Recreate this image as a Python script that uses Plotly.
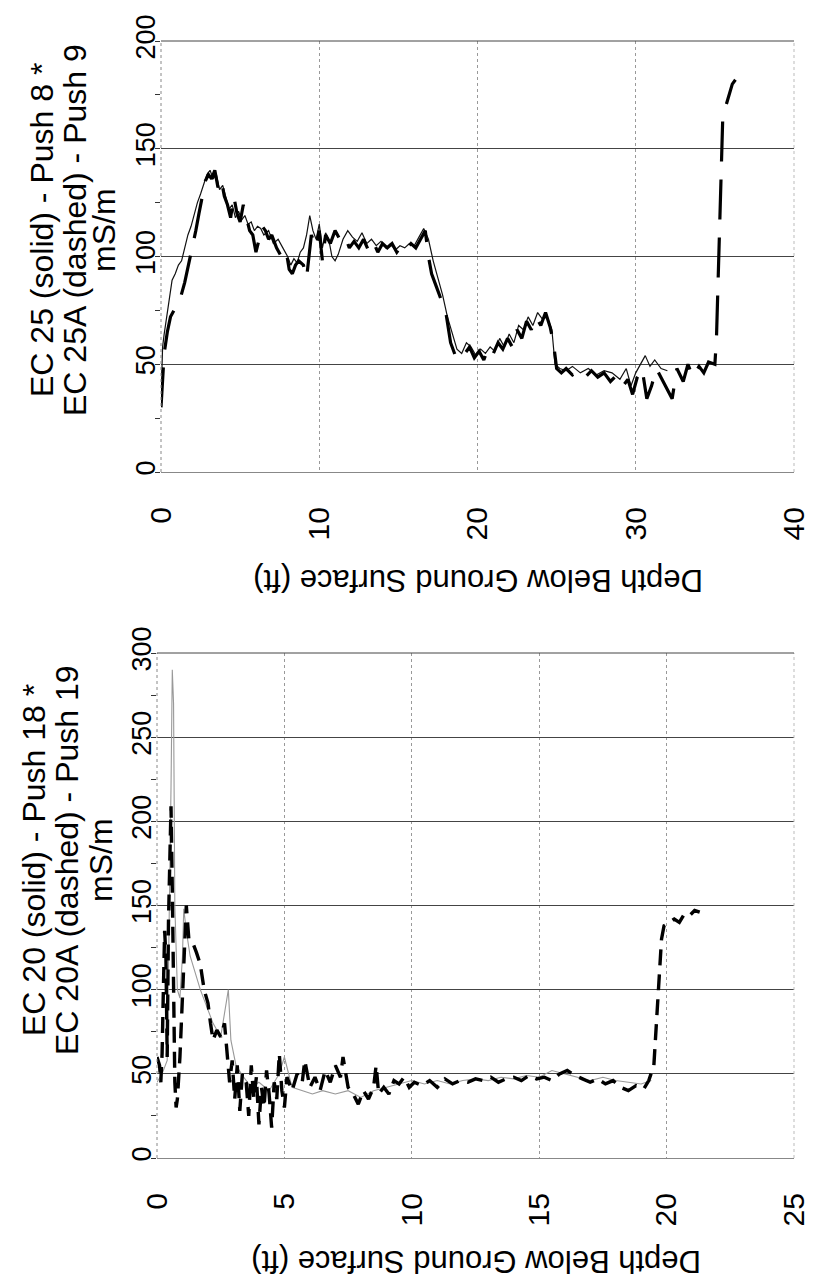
import plotly.graph_objects as go

# ---------------- data: top panel (EC 25 / EC 25A) ----------------
ec25_depth = [0.05, 0.1, 0.2, 0.4, 0.6, 0.7, 0.9, 1.1, 1.3, 1.5, 1.7, 1.9, 2.1, 2.3, 2.5, 2.7, 2.9, 3.1,
              3.3, 3.5, 3.7, 3.9, 4.1, 4.3, 4.5, 4.7, 4.9, 5.1, 5.3, 5.5, 5.7, 5.9, 6.1, 6.3, 6.5, 6.8,
              7.1, 7.4, 7.7, 8.0, 8.2, 8.4, 8.6, 8.8, 9.0, 9.2, 9.4, 9.6, 9.8, 10.0, 10.2, 10.4, 10.6,
              10.8, 11.0, 11.2, 11.5, 11.8, 12.1, 12.4, 12.7, 13.0, 13.3, 13.6, 13.9, 14.2, 14.5, 14.8,
              15.1, 15.4, 15.7, 16.0, 16.3, 16.6, 16.9, 17.2, 17.5, 17.8, 18.1, 18.4, 18.7, 19.0, 19.3,
              19.6, 19.9, 20.2, 20.5, 20.8, 21.1, 21.4, 21.7, 22.0, 22.3, 22.6, 22.9, 23.2, 23.5, 23.8,
              24.1, 24.4, 24.7, 24.9, 25.2, 25.6, 26.0, 26.5, 27.0, 27.5, 28.0, 28.5, 29.0, 29.4, 29.7,
              30.0, 30.3, 30.6, 30.9, 31.2, 31.6, 32.0]
ec25_val = [45, 58, 64, 75, 85, 89, 92, 96, 98, 104, 110, 114, 120, 125, 129, 134, 138, 140,
            136, 138, 131, 133, 128, 122, 124, 118, 121, 117, 119, 115, 116, 112, 114, 113, 110, 112,
            106, 108, 104, 100, 96, 99, 97, 102, 104, 110, 119, 112, 108, 115, 104, 111, 108,
            100, 98, 101, 108, 112, 109, 107, 111, 106, 108, 105, 107, 104, 106, 103,
            105, 104, 106, 105, 109, 113, 108, 98, 90, 82, 72, 64, 57, 55, 60,
            58, 54, 57, 55, 58, 56, 62, 58, 64, 60, 68, 66, 72, 68, 74,
            71, 72, 66, 50, 48, 47, 49, 46, 48, 45, 47, 46, 43, 48, 40,
            46, 50, 54, 49, 52, 48, 47]

ec25a_depth = [0.0, 0.1, 0.2, 0.4, 0.6, 0.9, 1.2, 1.5, 1.8, 2.0, 2.2, 2.4, 2.6, 2.8, 3.0, 3.2, 3.4, 3.6,
               3.8, 4.0, 4.2, 4.4, 4.6, 4.8, 5.0, 5.2, 5.4, 5.6, 5.8, 6.0, 6.2, 6.4, 6.6, 6.8, 7.0,
               7.3, 7.6, 7.9, 8.1, 8.3, 8.5, 8.7, 9.0, 9.2, 9.5, 9.8, 10.0, 10.2, 10.4, 10.7, 11.0,
               11.3, 11.6, 11.9, 12.2, 12.5, 12.8, 13.1, 13.4, 13.7, 14.0, 14.3, 14.6, 14.9, 15.2,
               15.5, 15.8, 16.1, 16.4, 16.7, 16.9, 17.1, 17.4, 17.7, 18.0, 18.3, 18.6, 18.9, 19.2,
               19.5, 19.8, 20.1, 20.4, 20.7, 21.0, 21.3, 21.6, 21.9, 22.2, 22.5, 22.8, 23.1, 23.4,
               23.7, 24.0, 24.3, 24.6, 24.8, 25.0, 25.3, 25.6, 26.0, 26.4, 26.8, 27.2, 27.6, 28.0,
               28.4, 28.8, 29.2, 29.5, 29.8, 30.1, 30.4, 30.7, 31.0, 31.3, 31.6, 32.0, 32.3, 32.6,
               33.0, 33.3, 33.6, 34.0, 34.3, 34.6, 35.0, 35.1, 35.2, 35.3, 35.4, 35.5, 36.1, 36.3]
ec25a_val = [30, 45, 55, 65, 72, 76, 80, 88, 98, 104, 112, 120, 128, 135, 138, 136, 140, 132,
             136, 128, 124, 118, 128, 120, 116, 124, 118, 112, 110, 102, 108, 114, 112, 108, 110,
             104, 100, 103, 94, 92, 96, 98, 96, 90, 110, 104, 112, 98, 110, 106, 112,
             108, 110, 104, 107, 104, 108, 103, 107, 102, 106, 104, 106, 102, 105,
             103, 106, 104, 108, 112, 100, 92, 86, 80, 74, 60, 54, 52, 55,
             58, 53, 56, 52, 58, 55, 60, 57, 62, 58, 66, 62, 70, 66,
             72, 68, 74, 67, 60, 48, 46, 48, 45, 47, 44, 47, 44, 46,
             42, 45, 40, 43, 36, 44, 48, 34, 40, 48, 44, 38, 34, 48,
             42, 50, 44, 49, 46, 51, 50, 62, 85, 110, 135, 165, 180, 182]

# ---------------- data: bottom panel (EC 20 / EC 20A) ----------------
ec20_depth = [0.0, 0.2, 0.4, 0.5, 0.55, 0.6, 0.65, 0.7, 0.8, 0.9, 1.0, 1.05, 1.15, 1.3, 1.5, 1.7, 1.9,
              2.2, 2.5, 2.8, 2.9, 3.1, 3.4, 3.7, 4.0, 4.4, 4.8, 5.0, 5.3, 5.7, 6.1, 6.5, 7.0, 7.5,
              8.0, 8.5, 9.0, 9.5, 10.0, 10.5, 11.0, 11.5, 12.0, 12.5, 13.0, 13.5, 14.0, 14.5,
              15.0, 15.5, 16.0, 16.5, 17.0, 17.5, 18.0, 18.5, 19.0, 19.4]
ec20_val = [45, 50, 58, 150, 220, 290, 270, 150, 100, 95, 120, 148, 135, 120, 110, 100, 92,
            80, 72, 100, 70, 55, 48, 42, 45, 40, 50, 60, 42, 40, 38, 40, 38, 40,
            36, 40, 42, 44, 46, 44, 46, 44, 46, 47, 46, 48, 47, 49,
            48, 52, 50, 48, 46, 48, 46, 45, 44, 46]

ec20a_depth = [0.0, 0.1, 0.15, 0.2, 0.25, 0.3, 0.35, 0.4, 0.45, 0.5, 0.55, 0.6, 0.65, 0.7, 0.75, 0.8,
               0.9, 1.0, 1.1, 1.15, 1.25, 1.4, 1.55, 1.7, 1.85, 2.0, 2.1, 2.2, 2.35, 2.5, 2.65, 2.75,
               2.85, 2.95, 3.05, 3.15, 3.25, 3.35, 3.5, 3.6, 3.7, 3.8, 3.9, 4.0, 4.1, 4.2, 4.3, 4.4,
               4.5, 4.6, 4.7, 4.8, 4.9, 5.0, 5.1, 5.3, 5.5, 5.7, 5.8, 6.0, 6.2, 6.4, 6.6, 6.8, 7.0,
               7.2, 7.3, 7.5, 7.7, 7.9, 8.1, 8.3, 8.5, 8.6, 8.7, 8.9, 9.1, 9.3, 9.5, 9.7, 9.9, 10.1,
               10.4, 10.7, 11.0, 11.3, 11.6, 11.9, 12.2, 12.5, 12.8, 13.1, 13.4, 13.7, 14.0, 14.3,
               14.6, 14.9, 15.2, 15.5, 15.8, 16.1, 16.4, 16.7, 17.0, 17.3, 17.6, 17.9, 18.2, 18.5,
               18.8, 19.1, 19.3, 19.5, 19.6, 19.7, 19.8, 19.9, 20.1, 20.3, 20.5, 20.7, 20.9, 21.1,
               21.3]
ec20a_val = [60, 55, 45, 62, 100, 135, 120, 60, 140, 190, 209, 160, 95, 45, 30, 35,
             60, 100, 140, 150, 130, 128, 122, 115, 100, 92, 80, 70, 76, 72, 80, 62,
             45, 58, 35, 55, 28, 50, 45, 25, 55, 35, 48, 20, 42, 30, 52, 38,
             18, 45, 35, 62, 40, 30, 48, 40, 50, 45, 58, 42, 48, 40, 52, 45, 55,
             48, 60, 42, 38, 32, 40, 35, 42, 55, 38, 42, 38, 46, 44, 48, 42, 45,
             43, 46, 42, 47, 44, 46, 45, 47, 46, 48, 45, 47, 48, 46,
             49, 47, 48, 46, 50, 52, 49, 47, 45, 47, 44, 46, 42, 40,
             43, 41, 46, 55, 80, 110, 130, 138, 140, 142, 140, 145, 144, 147,
             146]

top_xticks = [0, 10, 20, 30, 40]
top_yticks = [0, 50, 100, 150, 200]
bot_xticks = [0, 5, 10, 15, 20, 25]
bot_yticks = [0, 50, 100, 150, 200, 250, 300]

top_title_lines = ["EC 25 (solid) - Push 8 *", "EC 25A (dashed) - Push 9", "mS/m"]
bot_title_lines = ["EC 20 (solid) - Push 18 *", "EC 20A (dashed) - Push 19", "mS/m"]
x_title = "Depth Below Ground Surface (ft)"

# ---------------- layout geometry (pixels) ----------------
W, H = 813, 1282

def fy(px):
    return 1 - px / H

def fx(px):
    return px / W

FONT = "Liberation Sans, Arial, sans-serif"

fig = go.Figure()
fig.add_trace(go.Scatter(x=ec25_depth, y=ec25_val, mode="lines", line=dict(color="#111", width=1.2),
                         xaxis="x", yaxis="y", showlegend=False))
fig.add_trace(go.Scatter(x=ec25a_depth, y=ec25a_val, mode="lines",
                         line=dict(color="#000", width=3.2, dash="40px,18px"),
                         xaxis="x", yaxis="y", showlegend=False))
fig.add_trace(go.Scatter(x=ec20_depth, y=ec20_val, mode="lines", line=dict(color="#999", width=1.1),
                         xaxis="x2", yaxis="y2", showlegend=False))
fig.add_trace(go.Scatter(x=ec20a_depth, y=ec20a_val, mode="lines",
                         line=dict(color="#000", width=3.4, dash="16px,9px"),
                         xaxis="x2", yaxis="y2", showlegend=False))

xcommon = dict(showgrid=True, gridcolor="#999", griddash="dot", gridwidth=1, zeroline=False,
               showline=False, ticks="", tickangle=-90, ticklabelstandoff=28,
               tickfont=dict(family=FONT, size=30, color="#000"), automargin=False)
ycommon = dict(showgrid=True, gridcolor="#444", gridwidth=1, zeroline=True, zerolinecolor="#888",
               zerolinewidth=1, showline=False, ticks="", tickangle=-90,
               tickfont=dict(family=FONT, size=27, color="#000"), automargin=False,
               minor=dict(ticks="outside", ticklen=5, tickcolor="#333", dtick=25, showgrid=False))

fig.update_layout(
    width=W, height=H, paper_bgcolor="white", plot_bgcolor="white",
    margin=dict(l=0, r=0, t=0, b=0),
    xaxis=dict(xcommon, domain=[fx(153), fx(786)], range=[0, 40], tickvals=top_xticks, anchor="y"),
    yaxis=dict(ycommon, domain=[fy(464), fy(33)], range=[0, 200], tickvals=top_yticks, anchor="x"),
    xaxis2=dict(xcommon, domain=[fx(149), fx(786)], range=[0, 25], tickvals=bot_xticks, anchor="y2"),
    yaxis2=dict(ycommon, domain=[fy(1150), fy(645)], range=[0, 300], tickvals=bot_yticks, anchor="x2"),
)

# plot-area borders (dotted left/right, solid top)
for xa, ya in (("x", "y"), ("x2", "y2")):
    fig.add_shape(type="line", xref=f"{xa} domain", yref=f"{ya} domain", x0=0, x1=0, y0=0, y1=1,
                  line=dict(color="#888", width=1, dash="dot"))
    fig.add_shape(type="line", xref=f"{xa} domain", yref=f"{ya} domain", x0=1, x1=1, y0=0, y1=1,
                  line=dict(color="#bbb", width=1, dash="dot"))
    fig.add_shape(type="line", xref=f"{xa} domain", yref=f"{ya} domain", x0=0, x1=1, y0=1, y1=1,
                  line=dict(color="#444", width=1))

# y-axis titles (three rotated lines each)
for lines, xs, yc in ((top_title_lines, (34, 67, 96), 222), (bot_title_lines, (26, 59, 93), 852)):
    for text, xp in zip(lines, xs):
        fig.add_annotation(text=text, xref="paper", yref="paper", x=fx(xp), y=fy(yc),
                           xanchor="center", yanchor="middle", textangle=-90, showarrow=False,
                           font=dict(family=FONT, size=32, color="#000"))

# x-axis titles (upside down)
for xc, yc in ((470, 573), (468, 1254)):
    fig.add_annotation(text=x_title, xref="paper", yref="paper", x=fx(xc), y=fy(yc),
                       xanchor="center", yanchor="middle", textangle=180, showarrow=False,
                       font=dict(family=FONT, size=31, color="#000"))

fig.write_html("out.html")
